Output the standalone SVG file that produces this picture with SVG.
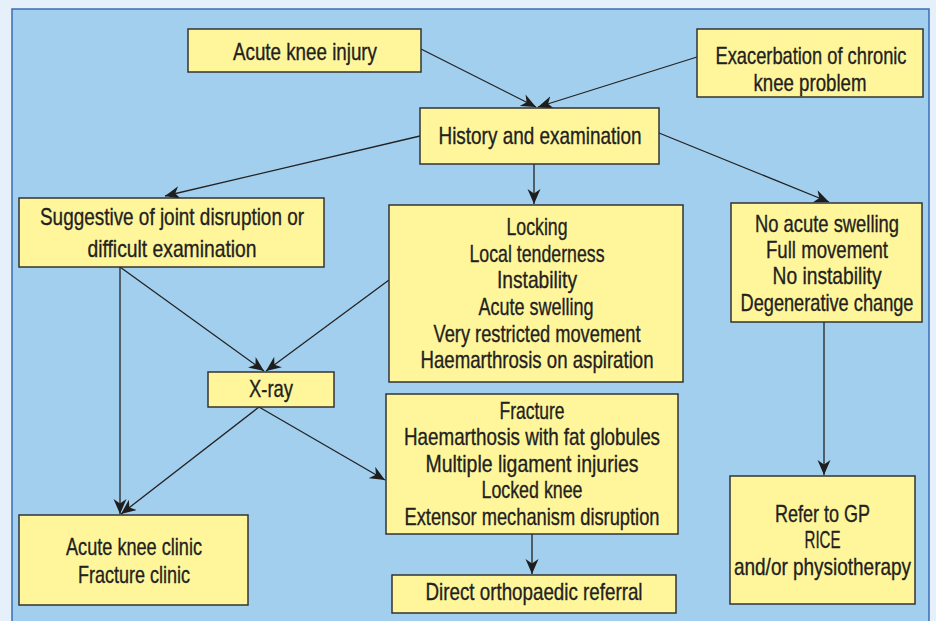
<svg xmlns="http://www.w3.org/2000/svg" width="936" height="621" viewBox="0 0 936 621">
<defs>
<marker id="ah" markerUnits="userSpaceOnUse" markerWidth="16" markerHeight="14" refX="15" refY="6.5" orient="auto">
<path d="M0,0 L15,6.5 L0,13 L4.5,6.5 z" fill="#1e1e1e"/>
</marker>
<style>
.box{fill:#fff69c;stroke:#333;stroke-width:1.5}
.t{font-family:"Liberation Sans Narrow","Liberation Sans",Arial,sans-serif;font-size:24px;fill:#231f20;stroke:#231f20;stroke-width:0.35;text-anchor:middle}
.c{fill:none;stroke:#222;stroke-width:1.3;marker-end:url(#ah)}
</style>
</defs>
<rect x="0" y="0" width="936" height="621" fill="#e6f0fa"/>
<rect x="12" y="9" width="917" height="640" fill="#a3cfef" stroke="#3a6db3" stroke-width="1.5"/>

<g id="connectors">
<line class="c" x1="421" y1="49" x2="536" y2="107"/>
<line class="c" x1="697" y1="57" x2="538" y2="107"/>
<line class="c" x1="420" y1="136" x2="165" y2="196"/>
<line class="c" x1="534" y1="164" x2="534" y2="204"/>
<line class="c" x1="659" y1="133" x2="829" y2="202"/>
<line class="c" x1="824" y1="322" x2="824" y2="475"/>
<line class="c" x1="120" y1="267" x2="264" y2="371"/>
<line class="c" x1="389" y1="280" x2="266" y2="371"/>
<line class="c" x1="120" y1="267" x2="120" y2="514"/>
<line class="c" x1="259" y1="407" x2="121" y2="514"/>
<line class="c" x1="259" y1="407" x2="385" y2="480"/>
<line class="c" x1="532" y1="534" x2="532" y2="574"/>
</g>

<g id="acute-injury">
<rect class="box" x="188" y="29" width="233" height="43"/>
<text class="t" x="305" y="60" textLength="144" lengthAdjust="spacingAndGlyphs">Acute knee injury</text>
</g>
<g id="exacerbation">
<rect class="box" x="697" y="29" width="226" height="68"/>
<text class="t" x="811" y="64" textLength="191" lengthAdjust="spacingAndGlyphs">Exacerbation of chronic</text>
<text class="t" x="810" y="91" textLength="113" lengthAdjust="spacingAndGlyphs">knee problem</text>
</g>
<g id="history">
<rect class="box" x="420" y="108" width="239" height="56"/>
<text class="t" x="540" y="144" textLength="203" lengthAdjust="spacingAndGlyphs">History and examination</text>
</g>
<g id="suggestive">
<rect class="box" x="19" y="198" width="305" height="69"/>
<text class="t" x="172" y="225" textLength="264" lengthAdjust="spacingAndGlyphs">Suggestive of joint disruption or</text>
<text class="t" x="172" y="256.5" textLength="169" lengthAdjust="spacingAndGlyphs">difficult examination</text>
</g>
<g id="locking">
<rect class="box" x="389" y="205" width="294" height="177"/>
<text class="t" x="537" y="235" textLength="61" lengthAdjust="spacingAndGlyphs">Locking</text>
<text class="t" x="537" y="261.7" textLength="135" lengthAdjust="spacingAndGlyphs">Local tenderness</text>
<text class="t" x="537" y="288.3" textLength="80" lengthAdjust="spacingAndGlyphs">Instability</text>
<text class="t" x="536" y="315" textLength="115" lengthAdjust="spacingAndGlyphs">Acute swelling</text>
<text class="t" x="537" y="341.7" textLength="207" lengthAdjust="spacingAndGlyphs">Very restricted movement</text>
<text class="t" x="537" y="368.3" textLength="233" lengthAdjust="spacingAndGlyphs">Haemarthrosis on aspiration</text>
</g>
<g id="no-acute">
<rect class="box" x="731" y="203" width="191" height="119"/>
<text class="t" x="827" y="231.7" textLength="144" lengthAdjust="spacingAndGlyphs">No acute swelling</text>
<text class="t" x="827" y="257.7" textLength="122" lengthAdjust="spacingAndGlyphs">Full movement</text>
<text class="t" x="827" y="284.3" textLength="109" lengthAdjust="spacingAndGlyphs">No instability</text>
<text class="t" x="827" y="310.7" textLength="173" lengthAdjust="spacingAndGlyphs">Degenerative change</text>
</g>
<g id="xray">
<rect class="box" x="208" y="372" width="126" height="35"/>
<text class="t" x="271" y="396.7" textLength="44" lengthAdjust="spacingAndGlyphs">X-ray</text>
</g>
<g id="fracture">
<rect class="box" x="386" y="394" width="292" height="140"/>
<text class="t" x="532" y="419.3" textLength="65" lengthAdjust="spacingAndGlyphs">Fracture</text>
<text class="t" x="532" y="445" textLength="256" lengthAdjust="spacingAndGlyphs">Haemarthosis with fat globules</text>
<text class="t" x="532" y="471.7" textLength="213" lengthAdjust="spacingAndGlyphs">Multiple ligament injuries</text>
<text class="t" x="532" y="498.3" textLength="101" lengthAdjust="spacingAndGlyphs">Locked knee</text>
<text class="t" x="532" y="525" textLength="255" lengthAdjust="spacingAndGlyphs">Extensor mechanism disruption</text>
</g>
<g id="clinic">
<rect class="box" x="19" y="515" width="229" height="90"/>
<text class="t" x="134" y="555" textLength="136" lengthAdjust="spacingAndGlyphs">Acute knee clinic</text>
<text class="t" x="134" y="583.3" textLength="112" lengthAdjust="spacingAndGlyphs">Fracture clinic</text>
</g>
<g id="referral">
<rect class="box" x="392" y="575" width="284" height="38"/>
<text class="t" x="534" y="600" textLength="217" lengthAdjust="spacingAndGlyphs">Direct orthopaedic referral</text>
</g>
<g id="gp">
<rect class="box" x="730" y="476" width="185" height="128"/>
<text class="t" x="822.5" y="521.7" textLength="95" lengthAdjust="spacingAndGlyphs">Refer to GP</text>
<text class="t" x="822.5" y="548.3" textLength="36" lengthAdjust="spacingAndGlyphs">RICE</text>
<text class="t" x="822.5" y="575" textLength="177" lengthAdjust="spacingAndGlyphs">and/or physiotherapy</text>
</g>
</svg>
